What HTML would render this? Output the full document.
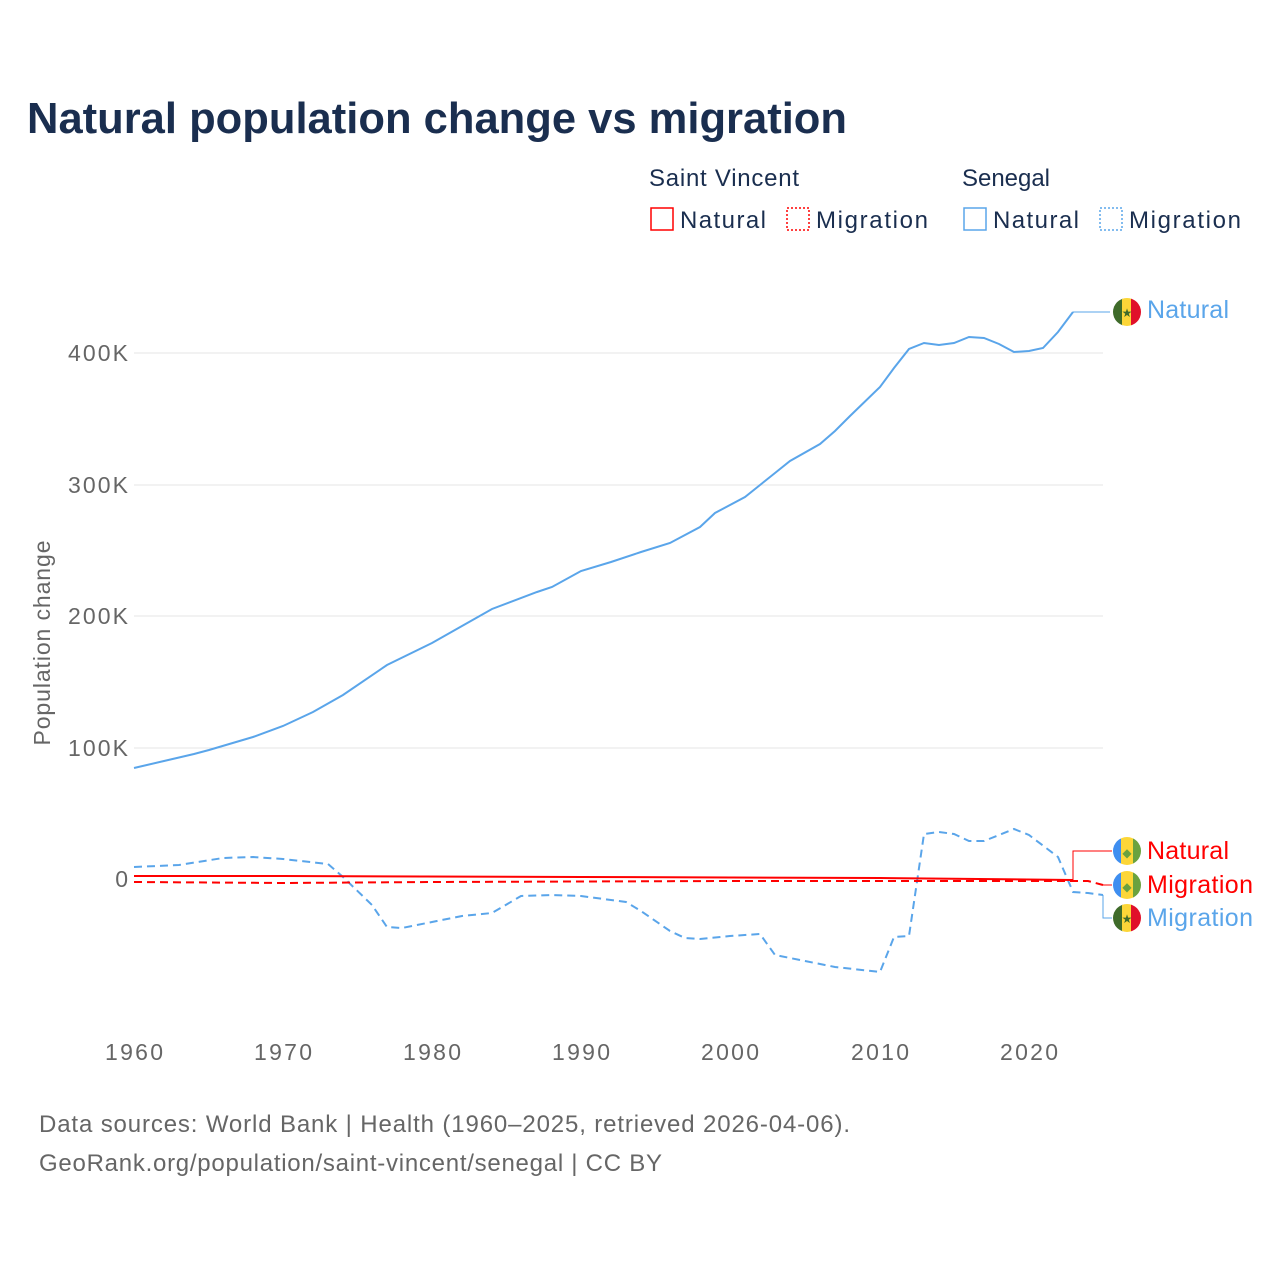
<!DOCTYPE html>
<html><head><meta charset="utf-8"><style>
body{margin:0;background:#fff;font-family:"Liberation Sans",sans-serif}
</style></head><body>
<svg width="1280" height="1280" xmlns="http://www.w3.org/2000/svg" font-family="Liberation Sans, sans-serif">
<rect width="1280" height="1280" fill="#fff"/>
<text x="27" y="133" font-size="44" font-weight="bold" fill="#1a2e4f" textLength="820" lengthAdjust="spacingAndGlyphs">Natural population change vs migration</text>
<g font-size="24" fill="#1a2e4f">
<text x="649" y="186" textLength="150">Saint Vincent</text>
<text x="962" y="186" textLength="88">Senegal</text>
<rect x="651" y="208" width="22" height="22" fill="none" stroke="#f00" stroke-width="1.5"/>
<text x="680" y="228" textLength="86">Natural</text>
<rect x="787" y="208" width="22" height="22" fill="none" stroke="#f00" stroke-width="1.5" stroke-dasharray="2,2"/>
<text x="816" y="228" textLength="112">Migration</text>
<rect x="964" y="208" width="22" height="22" fill="none" stroke="#5aa5ea" stroke-width="1.5"/>
<text x="993" y="228" textLength="86">Natural</text>
<rect x="1100" y="208" width="22" height="22" fill="none" stroke="#5aa5ea" stroke-width="1.5" stroke-dasharray="2,2"/>
<text x="1129" y="228" textLength="112">Migration</text>
</g>
<g stroke="#e6e6e6" stroke-width="1">
<line x1="134" x2="1103" y1="353" y2="353"/><line x1="134" x2="1103" y1="485" y2="485"/>
<line x1="134" x2="1103" y1="616" y2="616"/><line x1="134" x2="1103" y1="748" y2="748"/>
</g>
<g font-size="23" fill="#666" text-anchor="end">
<text x="128" y="361" textLength="60">400K</text><text x="128" y="493" textLength="60">300K</text><text x="128" y="624" textLength="60">200K</text><text x="128" y="756" textLength="60">100K</text><text x="128" y="887">0</text>
</g>
<text transform="translate(50,643) rotate(-90)" font-size="23" fill="#666" text-anchor="middle" textLength="205">Population change</text>
<g font-size="23" fill="#666" text-anchor="middle">
<text x="134" y="1060" textLength="58">1960</text><text x="283" y="1060" textLength="58">1970</text><text x="432" y="1060" textLength="58">1980</text><text x="581" y="1060" textLength="58">1990</text><text x="730" y="1060" textLength="58">2000</text><text x="880" y="1060" textLength="58">2010</text><text x="1029" y="1060" textLength="58">2020</text>
</g>
<g fill="none" stroke-width="2">
<polyline stroke="#5aa5ea" points="134,768 164,761 194,754 209,750 253,737 283,726 313,712 343,695 387,665 432,643 462,626 492,609 537,592 552,587 581,571 611,562 641,552 670,543 700,527 715,513 745,497 775,473 790,461 820,444 835,431 850,416 880,387 894,368 909,349 924,343 939,345 954,343 969,337 984,338 999,344 1014,352 1029,351 1043,348 1058,332 1073,312"/>
<polyline stroke="#5aa5ea" stroke-dasharray="8,5" points="134,867 179,865 223,858 253,857 283,859 328,864 343,877 372,905 387,927 402,928 432,922 462,916 492,913 521,896 552,895 581,896 626,902 641,911 670,931 685,938 700,939 730,936 760,934 775,955 805,961 835,967 880,972 894,937 909,936 924,834 939,832 954,834 969,841 984,841 1014,829 1029,835 1058,857 1073,892 1088,893 1103,895"/>
<polyline stroke="#f00" points="134,876 283,876 581,877 880,878 1073,880"/>
<polyline stroke="#f00" stroke-dasharray="8,5" points="134,882 283,883 432,882 730,881 1088,881 1103,885"/>
</g>
<g fill="none" stroke-width="1">
<polyline stroke="#5aa5ea" points="1073,312 1110,312"/>
<polyline stroke="#5aa5ea" points="1103,895 1103,918 1112,918"/>
<polyline stroke="#f00" points="1073,880 1073,851 1112,851"/>
<polyline stroke="#f00" points="1103,885 1112,885"/>
</g>
<defs>
<clipPath id="c1"><circle cx="1127" cy="312" r="14"/></clipPath>
<clipPath id="c2"><circle cx="1127" cy="851" r="14"/></clipPath>
<clipPath id="c3"><circle cx="1127" cy="885" r="14"/></clipPath>
<clipPath id="c4"><circle cx="1127" cy="918" r="14"/></clipPath>
</defs>
<g clip-path="url(#c1)"><rect x="1113" y="298" width="10" height="28" fill="#3f6b2a"/><rect x="1122" y="298" width="10" height="28" fill="#fcd638"/><rect x="1131" y="298" width="10" height="28" fill="#e0102a"/><text x="1127" y="317" font-size="12" fill="#3f6b2a" text-anchor="middle">★</text></g>
<g clip-path="url(#c2)"><rect x="1113" y="837" width="8" height="28" fill="#3e8ef0"/><rect x="1121" y="837" width="13" height="28" fill="#fcd638"/><rect x="1133" y="837" width="8" height="28" fill="#6aa23f"/><text x="1127" y="857" font-size="12" fill="#6aa23f" text-anchor="middle">◆</text></g>
<g clip-path="url(#c3)"><rect x="1113" y="871" width="8" height="28" fill="#3e8ef0"/><rect x="1121" y="871" width="13" height="28" fill="#fcd638"/><rect x="1133" y="871" width="8" height="28" fill="#6aa23f"/><text x="1127" y="891" font-size="12" fill="#6aa23f" text-anchor="middle">◆</text></g>
<g clip-path="url(#c4)"><rect x="1113" y="904" width="10" height="28" fill="#3f6b2a"/><rect x="1122" y="904" width="10" height="28" fill="#fcd638"/><rect x="1131" y="904" width="10" height="28" fill="#e0102a"/><text x="1127" y="923" font-size="12" fill="#3f6b2a" text-anchor="middle">★</text></g>
<g font-size="25">
<text x="1147" y="318" fill="#5aa5ea" textLength="82">Natural</text>
<text x="1147" y="859" fill="#f00" textLength="82">Natural</text>
<text x="1147" y="893" fill="#f00" textLength="106">Migration</text>
<text x="1147" y="926" fill="#5aa5ea" textLength="106">Migration</text>
</g>
<g font-size="24" fill="#666">
<text x="39" y="1132" textLength="811">Data sources: World Bank | Health (1960–2025, retrieved 2026-04-06).</text>
<text x="39" y="1171" textLength="623">GeoRank.org/population/saint-vincent/senegal | CC BY</text>
</g>
</svg>
</body></html>
